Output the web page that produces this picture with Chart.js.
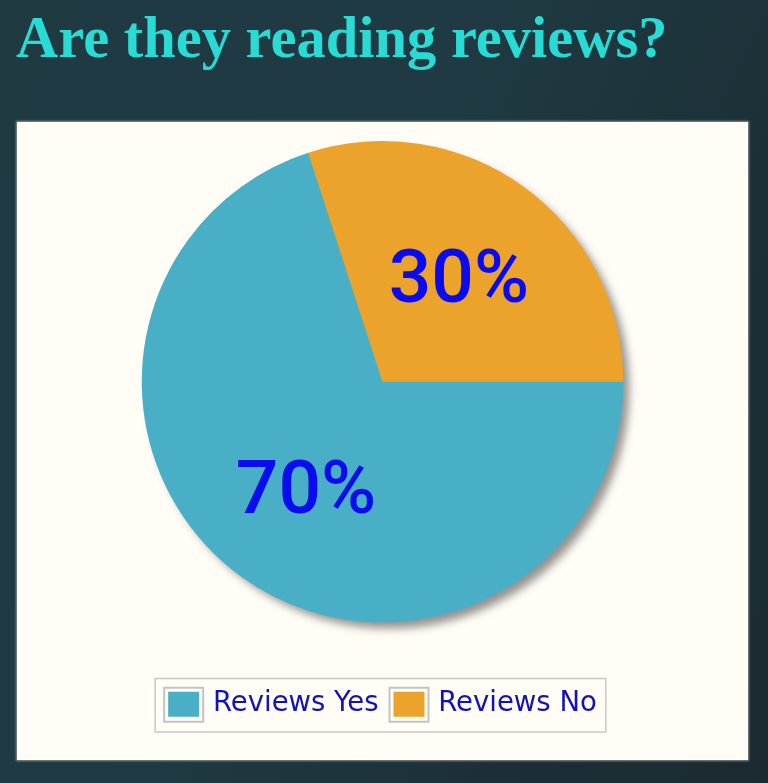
<!DOCTYPE html>
<html>
<head>
<meta charset="utf-8">
<script src="https://cdn.jsdelivr.net/npm/chart.js@4"></script>
<style>
  html, body { margin:0; padding:0; }
  body {
    width:768px; height:783px; overflow:hidden; position:relative;
    background: linear-gradient(115deg, #203a42 0%, #1f3a42 45%, #1c2f36 75%, #1b2a30 100%);
  }
  #title {
    position:absolute; left:16px; top:9px; margin:0;
    font-family:"Liberation Serif", "Times New Roman", serif; font-weight:bold;
    font-size:58.5px; line-height:1; color:#28dcd5; white-space:nowrap;
  }
  #panel {
    position:absolute; left:17px; top:122px; width:731px; height:638px;
    background:#fffdf6; box-shadow: 0 0 2px 1px rgba(170,170,170,0.8);
  }
  canvas { display:block; }
</style>
</head>
<body>
<h1 id="title">Are they reading reviews?</h1>
<div id="panel"><canvas id="c" width="731" height="638"></canvas></div>
<script>
const categories = ['Reviews Yes', 'Reviews No'];
const values = [70, 30];
const sliceColors = ['#49afc6', '#eba32b'];
const valueLabels = ['70%', '30%'];

const shadowPlugin = {
  id: 'pieShadow',
  beforeDatasetsDraw(chart) {
    const arc = chart.getDatasetMeta(0).data[0];
    if (!arc) return;
    const ctx = chart.ctx;
    ctx.save();
    ctx.shadowColor = 'rgba(60,60,60,0.55)';
    ctx.shadowBlur = 9;
    ctx.shadowOffsetX = 7;
    ctx.shadowOffsetY = 7;
    ctx.beginPath();
    ctx.arc(arc.x, arc.y, arc.outerRadius - 1, 0, Math.PI * 2);
    ctx.fillStyle = sliceColors[0];
    ctx.fill();
    ctx.restore();
  }
};

const labelPlugin = {
  id: 'sliceLabels',
  afterDatasetsDraw(chart) {
    const ctx = chart.ctx;
    const meta = chart.getDatasetMeta(0);
    ctx.save();
    ctx.font = '500 75px Roboto, "Noto Sans", sans-serif';
    ctx.fillStyle = '#0b0bf0';
    ctx.textAlign = 'center';
    ctx.textBaseline = 'middle';
    meta.data.forEach((arc, i) => {
      const mid = (arc.startAngle + arc.endAngle) / 2;
      const r = arc.outerRadius * 0.54;
      ctx.fillText(valueLabels[i], arc.x + Math.cos(mid) * r, arc.y + Math.sin(mid) * r + 7);
    });
    ctx.restore();
  }
};

const legendFramePlugin = {
  id: 'legendFrame',
  afterDraw(chart) {
    const lg = chart.legend;
    if (!lg || !lg.legendHitBoxes || !lg.legendHitBoxes.length) return;
    const hb = lg.legendHitBoxes;
    const ctx = chart.ctx;
    const bw = lg.options.labels.boxWidth, bh = lg.options.labels.boxHeight;
    ctx.save();
    ctx.strokeStyle = '#c4c4c4';
    ctx.lineWidth = 2;
    hb.forEach(h => {
      const top = h.top + (h.height - bh) / 2;
      ctx.strokeRect(h.left - 4, top - 4, bw + 8, bh + 9);
    });
    const first = hb[0], last = hb[hb.length - 1];
    const l = first.left - 13, r = last.left + last.width + 9;
    const t = first.top - 12, b = first.top + first.height + 14;
    ctx.strokeStyle = '#c8c8c8';
    ctx.lineWidth = 1.5;
    ctx.strokeRect(l, t, r - l, b - t);
    ctx.restore();
  }
};

new Chart(document.getElementById('c'), {
  type: 'pie',
  data: {
    labels: categories,
    datasets: [{
      data: values,
      backgroundColor: sliceColors,
      borderWidth: 0
    }]
  },
  options: {
    responsive: false,
    animation: false,
    rotation: 90,
    layout: { padding: { top: 19, bottom: 32, left: 0, right: 0 } },
    plugins: {
      tooltip: { enabled: false },
      legend: {
        position: 'bottom',
        title: { display: true, text: ' ', font: { size: 10 }, padding: { top: 41, bottom: 0 } },
        labels: {
          font: { family: '"DejaVu Sans", Verdana, sans-serif', size: 27.5 },
          color: '#1212b8',
          boxWidth: 31,
          boxHeight: 25,
          padding: 15,
          generateLabels(chart) {
            return categories.map((c, i) => ({
              text: c,
              fillStyle: sliceColors[i],
              strokeStyle: sliceColors[i],
              lineWidth: 0,
              hidden: false,
              index: i,
              fontColor: '#1212b8'
            }));
          }
        }
      }
    }
  },
  plugins: [shadowPlugin, labelPlugin, legendFramePlugin]
});
</script>
</body>
</html>
